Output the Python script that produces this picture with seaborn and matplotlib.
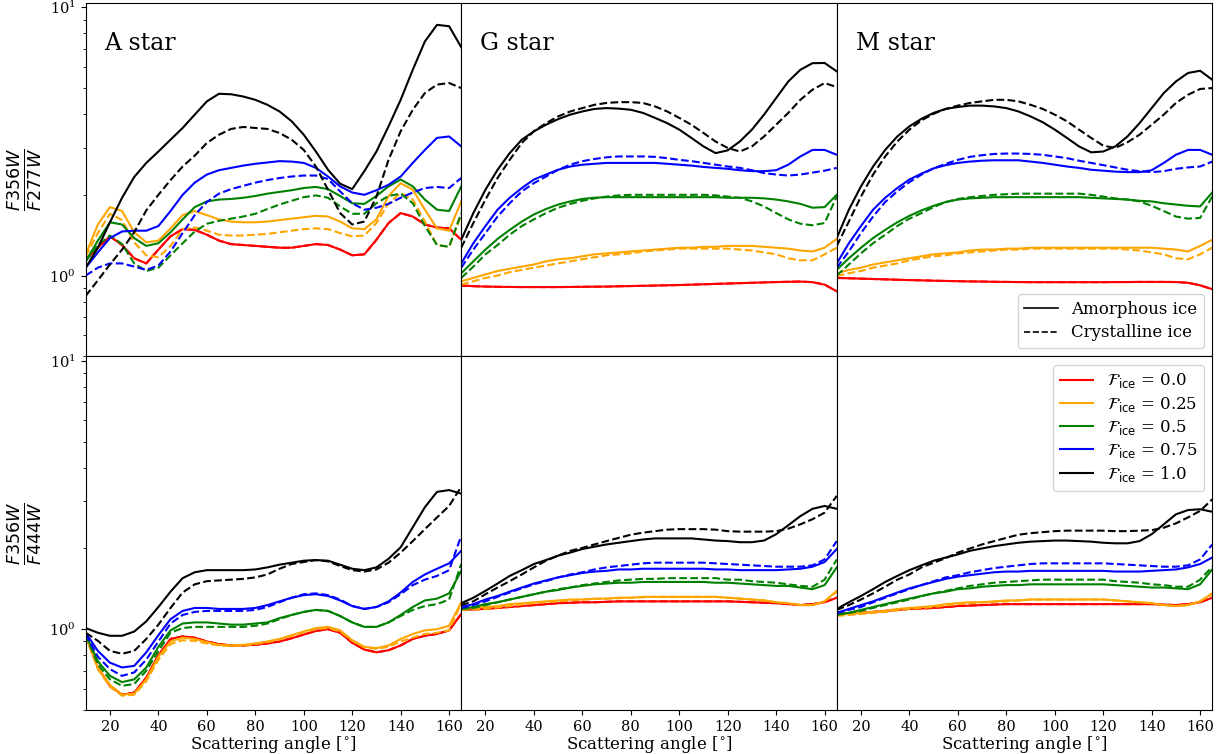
import matplotlib
matplotlib.use("Agg")
import matplotlib.pyplot as plt
from matplotlib.lines import Line2D
import pandas as pd
import seaborn as sns

plt.rcParams["font.family"] = "serif"
plt.rcParams["font.serif"] = ["DejaVu Serif"]
plt.rcParams["mathtext.fontset"] = "dejavusans"

# Scattering angles (degrees) at which every curve is sampled
ANGLE = [10, 15, 20, 25, 30, 35, 40, 45, 50, 55, 60, 65, 70, 75, 80, 85,
         90, 95, 100, 105, 110, 115, 120, 125, 130, 135, 140, 145, 150, 155, 160, 165]

F_ICE = [0.0, 0.25, 0.5, 0.75, 1.0]
F_COLORS = ["red", "orange", "green", "blue", "black"]
STARS = ["A star", "G star", "M star"]
PHASES = ["Amorphous ice", "Crystalline ice"]

# ---- F356W / F277W ----------------------------------------------------------
# rows: F_ice = 0.0, 0.25, 0.5, 0.75, 1.0
A_F277_AMO = [
    [1.15, 1.27, 1.40, 1.30, 1.16, 1.11, 1.25, 1.40, 1.49, 1.48, 1.42, 1.35, 1.31, 1.30, 1.29, 1.28,
     1.27, 1.27, 1.29, 1.31, 1.30, 1.25, 1.19, 1.20, 1.36, 1.57, 1.71, 1.66, 1.55, 1.51, 1.50, 1.36],
    [1.20, 1.55, 1.80, 1.74, 1.45, 1.33, 1.35, 1.50, 1.68, 1.74, 1.68, 1.62, 1.59, 1.58, 1.58, 1.59,
     1.61, 1.63, 1.65, 1.67, 1.66, 1.59, 1.50, 1.49, 1.62, 1.98, 2.21, 2.09, 1.76, 1.50, 1.47, 1.89],
    [1.13, 1.35, 1.58, 1.55, 1.38, 1.29, 1.32, 1.45, 1.62, 1.80, 1.89, 1.92, 1.93, 1.95, 1.98, 2.02,
     2.05, 2.08, 2.12, 2.14, 2.10, 1.98, 1.86, 1.85, 1.98, 2.15, 2.28, 2.15, 1.92, 1.76, 1.74, 2.15],
    [1.07, 1.22, 1.38, 1.46, 1.47, 1.47, 1.53, 1.74, 2.00, 2.22, 2.38, 2.47, 2.52, 2.57, 2.61, 2.64,
     2.67, 2.66, 2.63, 2.52, 2.34, 2.15, 2.04, 2.00, 2.08, 2.18, 2.34, 2.63, 2.94, 3.26, 3.30, 3.03],
    [1.07, 1.27, 1.58, 1.95, 2.33, 2.63, 2.90, 3.21, 3.55, 3.98, 4.46, 4.76, 4.74, 4.65, 4.52, 4.33,
     4.09, 3.76, 3.35, 2.90, 2.48, 2.20, 2.10, 2.45, 2.90, 3.60, 4.52, 5.85, 7.46, 8.60, 8.50, 7.10],
]
A_F277_CRY = [
    A_F277_AMO[0],  # no ice: both phases coincide
    [1.18, 1.44, 1.70, 1.61, 1.33, 1.19, 1.17, 1.29, 1.49, 1.51, 1.47, 1.42, 1.41, 1.41, 1.42, 1.43,
     1.45, 1.47, 1.49, 1.50, 1.49, 1.44, 1.40, 1.41, 1.57, 1.86, 2.03, 1.92, 1.59, 1.30, 1.28, 1.68],
    [1.13, 1.30, 1.41, 1.31, 1.11, 1.04, 1.07, 1.19, 1.32, 1.46, 1.56, 1.60, 1.63, 1.66, 1.70, 1.77,
     1.84, 1.90, 1.96, 1.99, 1.95, 1.81, 1.70, 1.70, 1.86, 1.98, 2.02, 1.86, 1.53, 1.30, 1.28, 1.71],
    [1.00, 1.07, 1.11, 1.11, 1.08, 1.05, 1.09, 1.23, 1.44, 1.68, 1.88, 2.02, 2.10, 2.16, 2.22, 2.27,
     2.31, 2.34, 2.36, 2.36, 2.29, 2.06, 1.86, 1.76, 1.79, 1.85, 1.95, 2.04, 2.12, 2.14, 2.12, 2.31],
    [0.84, 0.96, 1.10, 1.25, 1.45, 1.75, 2.00, 2.27, 2.55, 2.80, 3.12, 3.35, 3.52, 3.58, 3.55, 3.52,
     3.40, 3.21, 2.94, 2.55, 2.09, 1.71, 1.55, 1.59, 1.97, 2.70, 3.45, 4.15, 4.79, 5.15, 5.22, 5.00],
]
G_F277_AMO = [
    [0.918, 0.913, 0.910, 0.908, 0.907, 0.906, 0.906, 0.906, 0.906, 0.907, 0.908, 0.909, 0.910, 0.912, 0.914, 0.916,
     0.918, 0.920, 0.922, 0.925, 0.928, 0.931, 0.934, 0.937, 0.940, 0.943, 0.946, 0.948, 0.950, 0.945, 0.925, 0.874],
    [0.952, 0.98, 1.01, 1.04, 1.06, 1.08, 1.10, 1.13, 1.15, 1.16, 1.18, 1.20, 1.21, 1.22, 1.23, 1.24,
     1.25, 1.26, 1.27, 1.27, 1.28, 1.28, 1.29, 1.29, 1.29, 1.28, 1.27, 1.26, 1.24, 1.23, 1.27, 1.37],
    [1.02, 1.13, 1.25, 1.37, 1.48, 1.59, 1.69, 1.77, 1.84, 1.89, 1.93, 1.95, 1.96, 1.96, 1.96, 1.96,
     1.96, 1.96, 1.96, 1.96, 1.96, 1.96, 1.95, 1.95, 1.95, 1.94, 1.92, 1.89, 1.85, 1.79, 1.80, 2.00],
    [1.11, 1.32, 1.53, 1.76, 1.95, 2.12, 2.28, 2.38, 2.48, 2.55, 2.59, 2.61, 2.63, 2.63, 2.63, 2.63,
     2.63, 2.61, 2.59, 2.57, 2.54, 2.52, 2.50, 2.47, 2.45, 2.45, 2.47, 2.59, 2.78, 2.94, 2.94, 2.82],
    [1.36, 1.71, 2.09, 2.48, 2.86, 3.21, 3.45, 3.65, 3.83, 3.98, 4.09, 4.18, 4.21, 4.19, 4.15, 4.04,
     3.87, 3.70, 3.50, 3.26, 3.03, 2.86, 2.93, 3.16, 3.50, 3.98, 4.59, 5.29, 5.85, 6.19, 6.20, 5.77],
]
G_F277_CRY = [
    G_F277_AMO[0],
    [0.926, 0.952, 0.98, 1.00, 1.03, 1.05, 1.07, 1.09, 1.11, 1.13, 1.15, 1.17, 1.19, 1.20, 1.21, 1.23,
     1.24, 1.25, 1.26, 1.26, 1.26, 1.26, 1.26, 1.25, 1.24, 1.22, 1.20, 1.16, 1.14, 1.14, 1.20, 1.27],
    [0.98, 1.08, 1.20, 1.30, 1.42, 1.53, 1.62, 1.71, 1.79, 1.85, 1.90, 1.94, 1.97, 1.99, 2.00, 2.00,
     2.00, 2.00, 2.00, 2.00, 2.00, 1.99, 1.97, 1.95, 1.89, 1.81, 1.71, 1.62, 1.56, 1.54, 1.57, 1.97],
    [1.07, 1.25, 1.44, 1.66, 1.86, 2.06, 2.21, 2.34, 2.48, 2.59, 2.67, 2.72, 2.76, 2.78, 2.78, 2.78,
     2.77, 2.74, 2.70, 2.67, 2.63, 2.59, 2.55, 2.52, 2.47, 2.41, 2.38, 2.36, 2.38, 2.42, 2.46, 2.52],
    [1.27, 1.57, 1.92, 2.31, 2.70, 3.12, 3.45, 3.70, 3.92, 4.09, 4.21, 4.33, 4.40, 4.43, 4.43, 4.40,
     4.27, 4.09, 3.87, 3.65, 3.40, 3.16, 2.99, 2.90, 3.03, 3.30, 3.65, 4.04, 4.52, 4.93, 5.22, 5.04],
]
M_F277_AMO = [
    [0.980, 0.977, 0.974, 0.971, 0.968, 0.965, 0.962, 0.960, 0.957, 0.955, 0.953, 0.951, 0.950, 0.948, 0.947, 0.946,
     0.945, 0.945, 0.945, 0.945, 0.945, 0.945, 0.945, 0.946, 0.946, 0.947, 0.947, 0.947, 0.946, 0.940, 0.920, 0.890],
    [1.02, 1.05, 1.07, 1.10, 1.12, 1.14, 1.16, 1.18, 1.20, 1.21, 1.22, 1.24, 1.25, 1.25, 1.26, 1.26,
     1.27, 1.27, 1.27, 1.27, 1.27, 1.27, 1.27, 1.27, 1.27, 1.27, 1.27, 1.26, 1.25, 1.23, 1.29, 1.36],
    [1.05, 1.16, 1.27, 1.38, 1.48, 1.58, 1.67, 1.75, 1.82, 1.88, 1.92, 1.94, 1.95, 1.96, 1.96, 1.96,
     1.96, 1.96, 1.96, 1.96, 1.96, 1.95, 1.94, 1.93, 1.92, 1.90, 1.89, 1.86, 1.84, 1.82, 1.81, 2.04],
    [1.11, 1.32, 1.53, 1.76, 1.95, 2.12, 2.28, 2.40, 2.51, 2.58, 2.63, 2.66, 2.68, 2.69, 2.69, 2.69,
     2.66, 2.63, 2.59, 2.55, 2.52, 2.48, 2.46, 2.44, 2.43, 2.43, 2.47, 2.63, 2.82, 2.94, 2.94, 2.82],
    [1.38, 1.76, 2.15, 2.55, 2.94, 3.30, 3.60, 3.84, 4.04, 4.18, 4.25, 4.30, 4.30, 4.27, 4.21, 4.09,
     3.92, 3.73, 3.50, 3.26, 3.03, 2.88, 2.90, 3.03, 3.30, 3.70, 4.21, 4.79, 5.29, 5.69, 5.80, 5.37],
]
M_F277_CRY = [
    M_F277_AMO[0],
    [0.995, 1.02, 1.04, 1.07, 1.09, 1.11, 1.14, 1.16, 1.18, 1.19, 1.21, 1.22, 1.23, 1.24, 1.25, 1.25,
     1.26, 1.26, 1.26, 1.26, 1.26, 1.26, 1.26, 1.26, 1.25, 1.24, 1.22, 1.20, 1.16, 1.15, 1.20, 1.27],
    [1.00, 1.10, 1.21, 1.32, 1.42, 1.53, 1.63, 1.71, 1.80, 1.88, 1.93, 1.96, 1.98, 2.00, 2.01, 2.02,
     2.02, 2.02, 2.02, 2.02, 2.02, 2.00, 1.97, 1.94, 1.92, 1.89, 1.82, 1.74, 1.66, 1.63, 1.64, 1.97],
    [1.07, 1.23, 1.44, 1.66, 1.88, 2.06, 2.23, 2.38, 2.51, 2.61, 2.70, 2.77, 2.81, 2.84, 2.85, 2.85,
     2.84, 2.82, 2.78, 2.74, 2.68, 2.63, 2.58, 2.53, 2.48, 2.45, 2.43, 2.45, 2.50, 2.53, 2.55, 2.66],
    [1.29, 1.59, 1.97, 2.38, 2.78, 3.16, 3.50, 3.79, 4.01, 4.18, 4.30, 4.40, 4.46, 4.52, 4.52, 4.46,
     4.33, 4.18, 3.98, 3.76, 3.50, 3.26, 3.05, 2.99, 3.14, 3.35, 3.65, 3.98, 4.40, 4.72, 4.96, 5.00],
]

# ---- F356W / F444W ----------------------------------------------------------
A_F444_AMO = [
    [0.945, 0.72, 0.615, 0.57, 0.58, 0.66, 0.80, 0.92, 0.94, 0.93, 0.90, 0.88, 0.87, 0.87, 0.875, 0.885,
     0.90, 0.925, 0.955, 0.985, 1.00, 0.97, 0.89, 0.84, 0.82, 0.835, 0.87, 0.92, 0.945, 0.96, 0.99, 1.14],
    [0.945, 0.72, 0.62, 0.57, 0.575, 0.65, 0.79, 0.90, 0.93, 0.92, 0.895, 0.875, 0.87, 0.875, 0.885, 0.90,
     0.92, 0.95, 0.98, 1.01, 1.02, 0.99, 0.91, 0.86, 0.85, 0.87, 0.92, 0.96, 0.99, 1.00, 1.03, 1.26],
    [0.955, 0.76, 0.67, 0.635, 0.65, 0.72, 0.86, 0.99, 1.05, 1.06, 1.06, 1.05, 1.04, 1.04, 1.05, 1.06,
     1.10, 1.13, 1.16, 1.18, 1.17, 1.12, 1.06, 1.02, 1.02, 1.06, 1.13, 1.21, 1.28, 1.30, 1.36, 1.65],
    [0.97, 0.83, 0.75, 0.72, 0.73, 0.82, 0.95, 1.09, 1.17, 1.20, 1.20, 1.19, 1.19, 1.19, 1.20, 1.23,
     1.27, 1.31, 1.34, 1.35, 1.33, 1.28, 1.22, 1.19, 1.21, 1.27, 1.37, 1.50, 1.60, 1.68, 1.76, 1.96],
    [1.01, 0.97, 0.945, 0.945, 0.98, 1.07, 1.21, 1.38, 1.55, 1.63, 1.66, 1.66, 1.66, 1.66, 1.67, 1.70,
     1.74, 1.77, 1.80, 1.81, 1.80, 1.74, 1.68, 1.66, 1.70, 1.83, 2.02, 2.40, 2.85, 3.25, 3.30, 3.20],
]
A_F444_CRY = [
    A_F444_AMO[0],
    [0.94, 0.71, 0.61, 0.565, 0.57, 0.64, 0.77, 0.88, 0.91, 0.905, 0.885, 0.87, 0.865, 0.87, 0.88, 0.895,
     0.915, 0.945, 0.975, 1.00, 1.01, 0.98, 0.905, 0.855, 0.845, 0.86, 0.90, 0.93, 0.96, 0.97, 0.99, 1.25],
    [0.95, 0.74, 0.65, 0.615, 0.625, 0.70, 0.83, 0.97, 1.01, 1.02, 1.02, 1.02, 1.02, 1.02, 1.03, 1.05,
     1.09, 1.13, 1.16, 1.18, 1.17, 1.12, 1.06, 1.02, 1.02, 1.06, 1.12, 1.18, 1.22, 1.24, 1.29, 1.75],
    [0.96, 0.79, 0.71, 0.67, 0.69, 0.77, 0.90, 1.05, 1.13, 1.16, 1.17, 1.17, 1.17, 1.17, 1.18, 1.21,
     1.26, 1.31, 1.35, 1.36, 1.34, 1.29, 1.22, 1.19, 1.21, 1.26, 1.35, 1.46, 1.53, 1.58, 1.66, 2.23],
    [0.97, 0.905, 0.83, 0.81, 0.83, 0.92, 1.04, 1.20, 1.37, 1.47, 1.51, 1.52, 1.53, 1.54, 1.56, 1.60,
     1.68, 1.75, 1.78, 1.81, 1.79, 1.72, 1.66, 1.64, 1.67, 1.77, 1.93, 2.13, 2.36, 2.61, 2.88, 3.40],
]
G_F444_AMO = [
    [1.18, 1.185, 1.19, 1.20, 1.21, 1.22, 1.23, 1.24, 1.25, 1.255, 1.26, 1.26, 1.265, 1.27, 1.27, 1.27,
     1.27, 1.27, 1.27, 1.27, 1.27, 1.27, 1.27, 1.265, 1.26, 1.255, 1.25, 1.24, 1.23, 1.24, 1.26, 1.31],
    [1.19, 1.20, 1.21, 1.22, 1.24, 1.25, 1.26, 1.27, 1.28, 1.29, 1.29, 1.30, 1.30, 1.31, 1.31, 1.32,
     1.32, 1.32, 1.32, 1.32, 1.32, 1.32, 1.31, 1.30, 1.29, 1.28, 1.26, 1.25, 1.23, 1.23, 1.27, 1.39],
    [1.19, 1.21, 1.24, 1.26, 1.29, 1.32, 1.35, 1.38, 1.40, 1.43, 1.45, 1.47, 1.48, 1.49, 1.49, 1.50,
     1.50, 1.50, 1.50, 1.50, 1.50, 1.49, 1.49, 1.48, 1.47, 1.46, 1.45, 1.45, 1.43, 1.41, 1.46, 1.70],
    [1.21, 1.24, 1.29, 1.33, 1.38, 1.43, 1.48, 1.52, 1.56, 1.59, 1.62, 1.64, 1.65, 1.67, 1.67, 1.68,
     1.68, 1.68, 1.68, 1.68, 1.68, 1.67, 1.67, 1.66, 1.66, 1.66, 1.66, 1.67, 1.68, 1.71, 1.78, 1.99],
    [1.25, 1.31, 1.39, 1.48, 1.58, 1.66, 1.75, 1.81, 1.88, 1.93, 1.99, 2.03, 2.07, 2.10, 2.13, 2.16,
     2.18, 2.18, 2.18, 2.18, 2.16, 2.14, 2.13, 2.11, 2.11, 2.14, 2.26, 2.44, 2.64, 2.81, 2.88, 2.81],
]
G_F444_CRY = [
    G_F444_AMO[0],
    [1.18, 1.185, 1.19, 1.205, 1.22, 1.235, 1.25, 1.26, 1.27, 1.28, 1.29, 1.295, 1.30, 1.305, 1.31, 1.315,
     1.32, 1.32, 1.32, 1.32, 1.32, 1.32, 1.31, 1.30, 1.29, 1.28, 1.26, 1.25, 1.23, 1.23, 1.27, 1.38],
    [1.19, 1.20, 1.23, 1.26, 1.29, 1.32, 1.35, 1.38, 1.41, 1.43, 1.46, 1.48, 1.50, 1.52, 1.53, 1.54,
     1.54, 1.55, 1.55, 1.55, 1.55, 1.55, 1.53, 1.53, 1.51, 1.50, 1.49, 1.47, 1.45, 1.44, 1.53, 1.82],
    [1.20, 1.23, 1.27, 1.32, 1.37, 1.42, 1.47, 1.51, 1.56, 1.60, 1.63, 1.67, 1.70, 1.72, 1.74, 1.76,
     1.77, 1.77, 1.77, 1.77, 1.77, 1.76, 1.75, 1.74, 1.73, 1.72, 1.71, 1.71, 1.71, 1.73, 1.82, 2.13],
    [1.23, 1.27, 1.35, 1.43, 1.51, 1.60, 1.70, 1.80, 1.88, 1.96, 2.01, 2.07, 2.13, 2.19, 2.25, 2.29,
     2.32, 2.35, 2.36, 2.36, 2.36, 2.35, 2.32, 2.31, 2.31, 2.31, 2.32, 2.37, 2.46, 2.57, 2.72, 3.14],
]
M_F444_AMO = [
    [1.14, 1.145, 1.15, 1.16, 1.17, 1.18, 1.19, 1.195, 1.20, 1.21, 1.22, 1.225, 1.23, 1.235, 1.24, 1.24,
     1.24, 1.24, 1.24, 1.24, 1.24, 1.24, 1.24, 1.24, 1.24, 1.24, 1.24, 1.235, 1.23, 1.24, 1.26, 1.31],
    [1.13, 1.14, 1.15, 1.16, 1.17, 1.19, 1.20, 1.21, 1.22, 1.24, 1.25, 1.26, 1.26, 1.27, 1.28, 1.28,
     1.29, 1.29, 1.29, 1.29, 1.29, 1.29, 1.29, 1.28, 1.27, 1.26, 1.25, 1.23, 1.22, 1.23, 1.27, 1.36],
    [1.14, 1.15, 1.18, 1.21, 1.24, 1.27, 1.30, 1.33, 1.36, 1.38, 1.41, 1.42, 1.44, 1.45, 1.46, 1.46,
     1.47, 1.47, 1.47, 1.47, 1.47, 1.47, 1.47, 1.46, 1.45, 1.44, 1.43, 1.43, 1.42, 1.41, 1.47, 1.67],
    [1.15, 1.19, 1.23, 1.27, 1.32, 1.37, 1.42, 1.46, 1.50, 1.54, 1.57, 1.59, 1.61, 1.63, 1.64, 1.64,
     1.65, 1.65, 1.65, 1.65, 1.65, 1.65, 1.65, 1.64, 1.64, 1.64, 1.65, 1.66, 1.67, 1.70, 1.75, 1.85],
    [1.19, 1.26, 1.33, 1.41, 1.50, 1.58, 1.66, 1.73, 1.80, 1.85, 1.90, 1.96, 2.00, 2.04, 2.07, 2.10,
     2.12, 2.13, 2.14, 2.14, 2.13, 2.12, 2.10, 2.09, 2.09, 2.13, 2.26, 2.46, 2.68, 2.78, 2.80, 2.74],
]
M_F444_CRY = [
    M_F444_AMO[0],
    [1.12, 1.13, 1.14, 1.15, 1.16, 1.175, 1.19, 1.20, 1.21, 1.225, 1.24, 1.25, 1.26, 1.265, 1.27, 1.28,
     1.29, 1.29, 1.29, 1.29, 1.29, 1.29, 1.29, 1.28, 1.27, 1.26, 1.25, 1.23, 1.22, 1.23, 1.27, 1.35],
    [1.13, 1.15, 1.17, 1.20, 1.23, 1.26, 1.29, 1.33, 1.36, 1.39, 1.42, 1.45, 1.47, 1.49, 1.50, 1.51,
     1.52, 1.53, 1.53, 1.53, 1.53, 1.53, 1.53, 1.51, 1.50, 1.49, 1.47, 1.46, 1.44, 1.44, 1.53, 1.71],
    [1.15, 1.18, 1.21, 1.26, 1.31, 1.36, 1.41, 1.46, 1.51, 1.56, 1.59, 1.63, 1.66, 1.69, 1.71, 1.73,
     1.75, 1.76, 1.76, 1.76, 1.76, 1.76, 1.76, 1.75, 1.74, 1.73, 1.72, 1.71, 1.71, 1.73, 1.82, 2.07],
    [1.18, 1.23, 1.29, 1.36, 1.44, 1.53, 1.60, 1.70, 1.77, 1.84, 1.93, 2.00, 2.07, 2.13, 2.19, 2.25,
     2.28, 2.30, 2.32, 2.33, 2.33, 2.33, 2.33, 2.32, 2.32, 2.33, 2.34, 2.39, 2.48, 2.61, 2.76, 3.05],
]

ROW_LABELS = [r"$\frac{F356W}{F277W}$", r"$\frac{F356W}{F444W}$"]
PANELS = [
    [(A_F277_AMO, A_F277_CRY), (G_F277_AMO, G_F277_CRY), (M_F277_AMO, M_F277_CRY)],
    [(A_F444_AMO, A_F444_CRY), (G_F444_AMO, G_F444_CRY), (M_F444_AMO, M_F444_CRY)],
]

HUE_NAMES = [f"{f}" for f in F_ICE]
PALETTE = dict(zip(HUE_NAMES, F_COLORS))
DASHES = {"Amorphous ice": "", "Crystalline ice": (3.7, 1.6)}


def panel_frame(amorphous, crystalline):
    rows = []
    for phase, block in zip(PHASES, (amorphous, crystalline)):
        for name, values in zip(HUE_NAMES, block):
            for a, v in zip(ANGLE, values):
                rows.append({"angle": a, "ratio": v, "fice": name, "phase": phase})
    return pd.DataFrame(rows)


fig, axes = plt.subplots(2, 3, figsize=(12.23, 7.54), dpi=100, sharex=True, sharey=True)
fig.subplots_adjust(left=0.0701, right=0.9912, top=0.9964, bottom=0.0584,
                    wspace=0.0, hspace=0.0)

for r in range(2):
    for c in range(3):
        ax = axes[r, c]
        amo, cry = PANELS[r][c]
        df = panel_frame(amo, cry)
        sns.lineplot(data=df, x="angle", y="ratio", hue="fice", style="phase",
                     hue_order=HUE_NAMES, style_order=PHASES, palette=PALETTE,
                     dashes=DASHES, estimator=None, legend=False, linewidth=1.5, ax=ax)
        ax.set_yscale("log")
        ax.set_xlim(10, 165)
        ax.set_ylim(0.5, 10.4)
        ax.set_xticks(range(20, 161, 20))
        ax.tick_params(labelsize=10.5)
        ax.set_xlabel("")
        ax.set_ylabel("")
        if r == 0:
            ax.tick_params(axis="x", which="both", bottom=False, labelbottom=False)
            ax.text(0.05, 0.866, STARS[c], transform=ax.transAxes, fontsize=17,
                    va="baseline", ha="left")
        else:
            ax.set_xlabel(r"Scattering angle [$^{\circ}$]", fontsize=12, labelpad=0)
        if c == 0:
            ax.set_ylabel(ROW_LABELS[r], fontsize=18)
        else:
            ax.tick_params(axis="y", which="both", left=False, labelleft=False)

style_handles = [Line2D([], [], color="black", lw=1.2, ls="-"),
                 Line2D([], [], color="black", lw=1.2, ls="--")]
axes[0, 2].legend(style_handles, PHASES, loc="lower right", fontsize=12,
                  labelspacing=0.4)

color_handles = [Line2D([], [], color=col, lw=1.5) for col in F_COLORS]
color_labels = [r"$\mathcal{F}_{\rm ice}$ = " + f"{f}" for f in F_ICE]
axes[1, 2].legend(color_handles, color_labels, loc="upper right", fontsize=12,
                  labelspacing=0.25)

fig.savefig("out.png", dpi=100)
